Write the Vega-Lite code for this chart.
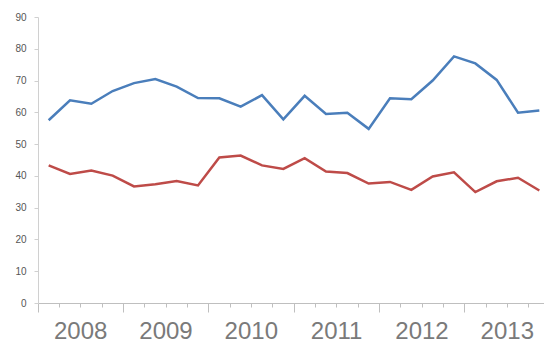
{
  "$schema": "https://vega.github.io/schema/vega-lite/v6.json",
  "autosize": {"type": "none"},
  "padding": {"left": 38, "top": 17, "right": 0, "bottom": 37},
  "width": 512,
  "height": 286,
  "background": "white",
  "config": {"view": {"stroke": null}},
  "data": {
    "values": [
      {"quarter": "2008 Q1", "series": "A", "value": 57.5},
      {"quarter": "2008 Q2", "series": "A", "value": 63.8},
      {"quarter": "2008 Q3", "series": "A", "value": 62.7},
      {"quarter": "2008 Q4", "series": "A", "value": 66.7},
      {"quarter": "2009 Q1", "series": "A", "value": 69.2},
      {"quarter": "2009 Q2", "series": "A", "value": 70.5},
      {"quarter": "2009 Q3", "series": "A", "value": 68.1},
      {"quarter": "2009 Q4", "series": "A", "value": 64.5},
      {"quarter": "2010 Q1", "series": "A", "value": 64.4},
      {"quarter": "2010 Q2", "series": "A", "value": 61.8},
      {"quarter": "2010 Q3", "series": "A", "value": 65.4},
      {"quarter": "2010 Q4", "series": "A", "value": 57.8},
      {"quarter": "2011 Q1", "series": "A", "value": 65.2},
      {"quarter": "2011 Q2", "series": "A", "value": 59.5},
      {"quarter": "2011 Q3", "series": "A", "value": 59.9},
      {"quarter": "2011 Q4", "series": "A", "value": 54.8},
      {"quarter": "2012 Q1", "series": "A", "value": 64.4},
      {"quarter": "2012 Q2", "series": "A", "value": 64.1},
      {"quarter": "2012 Q3", "series": "A", "value": 70.0},
      {"quarter": "2012 Q4", "series": "A", "value": 77.6},
      {"quarter": "2013 Q1", "series": "A", "value": 75.4},
      {"quarter": "2013 Q2", "series": "A", "value": 70.2},
      {"quarter": "2013 Q3", "series": "A", "value": 59.9},
      {"quarter": "2013 Q4", "series": "A", "value": 60.6},
      {"quarter": "2008 Q1", "series": "B", "value": 43.3},
      {"quarter": "2008 Q2", "series": "B", "value": 40.6},
      {"quarter": "2008 Q3", "series": "B", "value": 41.7},
      {"quarter": "2008 Q4", "series": "B", "value": 40.1},
      {"quarter": "2009 Q1", "series": "B", "value": 36.7},
      {"quarter": "2009 Q2", "series": "B", "value": 37.4},
      {"quarter": "2009 Q3", "series": "B", "value": 38.4},
      {"quarter": "2009 Q4", "series": "B", "value": 37.0},
      {"quarter": "2010 Q1", "series": "B", "value": 45.8},
      {"quarter": "2010 Q2", "series": "B", "value": 46.4},
      {"quarter": "2010 Q3", "series": "B", "value": 43.3},
      {"quarter": "2010 Q4", "series": "B", "value": 42.2},
      {"quarter": "2011 Q1", "series": "B", "value": 45.6},
      {"quarter": "2011 Q2", "series": "B", "value": 41.4},
      {"quarter": "2011 Q3", "series": "B", "value": 40.9},
      {"quarter": "2011 Q4", "series": "B", "value": 37.6},
      {"quarter": "2012 Q1", "series": "B", "value": 38.1},
      {"quarter": "2012 Q2", "series": "B", "value": 35.6},
      {"quarter": "2012 Q3", "series": "B", "value": 39.8},
      {"quarter": "2012 Q4", "series": "B", "value": 41.1},
      {"quarter": "2013 Q1", "series": "B", "value": 34.9},
      {"quarter": "2013 Q2", "series": "B", "value": 38.3},
      {"quarter": "2013 Q3", "series": "B", "value": 39.4},
      {"quarter": "2013 Q4", "series": "B", "value": 35.4}
    ]
  },
  "mark": {"type": "line", "strokeWidth": 2.5, "strokeJoin": "miter"},
  "encoding": {
    "x": {
      "field": "quarter",
      "type": "ordinal",
      "sort": null,
      "scale": {"type": "band", "paddingInner": 0, "paddingOuter": 0},
      "axis": {
        "title": null,
        "bandPosition": 0,
        "labelAngle": 0,
        "labelExpr": "indexof(datum.value, 'Q3') >= 0 ? slice(datum.value, 0, 4) : ''",
        "labelFont": "Liberation Sans",
        "labelFontSize": 24,
        "labelColor": "#7a7a7a",
        "labelPadding": 12,
        "labelOffset": -10.7,
        "labelBaseline": "top",
        "labelOverlap": false,
        "domainColor": "#bfbfbf",
        "domainWidth": 1,
        "tickColor": "#bfbfbf",
        "tickWidth": 1,
        "tickSize": {"condition": {"test": "indexof(datum.value, 'Q1') >= 0", "value": 9}, "value": 4}
      }
    },
    "y": {
      "field": "value",
      "type": "quantitative",
      "scale": {"domain": [0, 90], "nice": false},
      "axis": {
        "title": null,
        "values": [0, 10, 20, 30, 40, 50, 60, 70, 80, 90],
        "grid": false,
        "labelFont": "Liberation Sans",
        "labelFontSize": 10,
        "labelColor": "#555555",
        "labelPadding": 8,
        "domainColor": "#d0d0d0",
        "tickColor": "#d0d0d0",
        "tickSize": 4
      }
    },
    "color": {
      "field": "series",
      "type": "nominal",
      "scale": {"domain": ["A", "B"], "range": ["#4a7ebb", "#be4b48"]},
      "legend": null
    }
  }
}
